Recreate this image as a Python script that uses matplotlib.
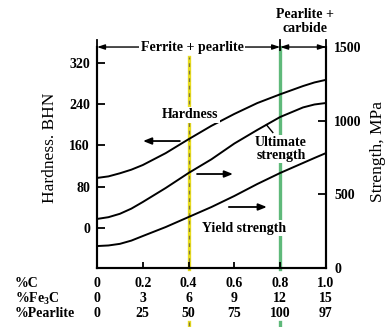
import numpy as np
import matplotlib
matplotlib.use("Agg")
import matplotlib.pyplot as plt
from matplotlib.transforms import blended_transform_factory

# carbon content of plain carbon steel and the properties read along it
carbon = [0, 0.05, 0.1, 0.15, 0.2, 0.3, 0.4, 0.5, 0.6, 0.7, 0.8, 0.9,
          0.95, 1.0]
hardness = [97, 100, 106, 113, 122, 145, 172, 198, 221, 242, 259, 275,
            282, 287]                                               # BHN
ultimate = [333, 345, 368, 403, 448, 543, 645, 738, 845, 937, 1025, 1090,
            1110, 1120]                                             # MPa
yield_strength = [149, 153, 164, 186, 217, 278, 346, 414, 489, 570, 645,
                  713, 747, 780]                                    # MPa

# composition table under the x axis
tick_c = [0, 0.2, 0.4, 0.6, 0.8, 1.0]
tick_c_labels = ["0", "0.2", "0.4", "0.6", "0.8", "1.0"]
fe3c = ["0", "3", "6", "9", "12", "15"]
pearlite = ["0", "25", "50", "75", "100", "97"]
row_names = ["%C", "%Fe$_3$C", "%Pearlite"]

half_c = 0.4       # 50 % pearlite
eutectoid_c = 0.8  # fully pearlitic

plt.rcParams["font.family"] = ["Liberation Serif", "DejaVu Serif"]
plt.rcParams["font.weight"] = "bold"
plt.rcParams["mathtext.fontset"] = "custom"
plt.rcParams["mathtext.rm"] = "Liberation Serif:bold"
plt.rcParams["mathtext.default"] = "rm"

fig = plt.figure(figsize=(3.88, 3.27), dpi=100)
ax = fig.add_axes([0.25, 0.1804, 0.590, 0.6758])
ax2 = ax.twinx()

ax.set_xlim(0, 1)
ax.set_ylim(-77.5, 350.6)
ax2.set_ylim(0, 1500)

ax.plot(carbon, hardness, color="k", lw=1.4, zorder=3)
ax2.plot(carbon, ultimate, color="k", lw=1.4)
ax2.plot(carbon, yield_strength, color="k", lw=1.4)

for a in (ax, ax2):
    a.spines["top"].set_visible(False)
    for s in ("left", "right", "bottom"):
        a.spines[s].set_linewidth(1.5)

ax.set_xticks(tick_c)
ax.tick_params(axis="x", direction="in", length=4.5, width=1.3,
               labelbottom=False)
ax.set_yticks([0, 80, 160, 240, 320])
ax.tick_params(axis="y", direction="in", length=6, width=1.3, pad=5,
               labelsize=10)
ax2.set_yticks([0, 500, 1000, 1500])
ax2.tick_params(axis="y", direction="in", length=6, width=1.3, pad=6,
                labelsize=10)

ax.text(-0.205, 0.545, "Hardness. BHN", rotation=90, ha="center",
        va="center", fontsize=12.5, fontweight="normal",
        transform=ax.transAxes)
ax.text(1.227, 0.525, "Strength, MPa", rotation=90, ha="center",
        va="center", fontsize=12.5, fontweight="normal",
        transform=ax.transAxes)

xt = blended_transform_factory(ax.transData, ax.transAxes)

# reference lines at 0.4 %C and the eutectoid composition
for y0, y1 in [(-0.005, 0.955), (-0.245, -0.27)]:
    ax.plot([half_c, half_c], [y0, y1], color="#e8dc1e", lw=2.4,
            transform=xt, clip_on=False, zorder=1)
    ax.plot([half_c, half_c], [y0, y1], color="#7d7840", lw=0.9,
            dashes=(3, 3), transform=xt, clip_on=False, zorder=1)
for y0, y1 in [(-0.005, 1.0), (-0.245, -0.27)]:
    ax.plot([eutectoid_c, eutectoid_c], [y0, y1], color="#5fb97a", lw=2.4,
            transform=xt, clip_on=False, zorder=1)

# composition table
rows = [tick_c_labels, fe3c, pearlite]
row_y = [-0.068, -0.140, -0.208]
for name, vals, y in zip(row_names, rows, row_y):
    ax.text(-0.358, y, name, ha="left", va="center", fontsize=10,
            transform=ax.transAxes)
    for c, v in zip(tick_c, vals):
        ax.text(c, y, v, ha="center", va="center", fontsize=10,
                transform=xt)

# microstructure ranges along the top
arrow_kw = dict(arrowstyle="<|-|>,head_length=0.45,head_width=0.15",
                color="k", lw=1.0, shrinkA=0, shrinkB=0)
ax.annotate("", xy=(0, 1.0), xytext=(eutectoid_c, 1.0), xycoords=xt,
            textcoords=xt, arrowprops=arrow_kw, annotation_clip=False)
ax.annotate("", xy=(eutectoid_c, 1.0), xytext=(1.0, 1.0), xycoords=xt,
            textcoords=xt, arrowprops=arrow_kw, annotation_clip=False)
for c in (0, eutectoid_c, 1.0):
    ax.plot([c, c], [0.986, 1.032], color="k", lw=1.3, transform=xt,
            clip_on=False)
ax.text(0.415, 1.0, "Ferrite + pearlite", ha="center", va="center",
        fontsize=10, transform=xt, zorder=4,
        bbox=dict(facecolor="white", edgecolor="none", pad=1))
ax.text(0.908, 1.115, "Pearlite +\ncarbide", ha="center", va="center",
        fontsize=10, linespacing=1.05, transform=xt)

# curve labels and direction arrows
white = dict(facecolor="white", edgecolor="none", pad=1)
ax.text(0.406, 219, "Hardness", ha="center", va="center", fontsize=10,
        zorder=4, bbox=white)
ax.text(0.803, 153, "Ultimate\nstrength", ha="center", va="center",
        fontsize=10, linespacing=1.0, zorder=4, bbox=white)
ax.text(0.642, 0, "Yield strength", ha="center", va="center",
        fontsize=10, zorder=4, bbox=white)
ax.plot([0.74, 0.768], [200, 185], color="k", lw=1.0, zorder=4)

head = dict(arrowstyle="-|>,head_length=0.5,head_width=0.2", color="k",
            lw=1.3, shrinkA=0, shrinkB=0)
ax.annotate("", xy=(0.201, 168.5), xytext=(0.362, 168.5), arrowprops=head)
ax.annotate("", xy=(0.594, 104.6), xytext=(0.437, 104.6), arrowprops=head)
ax.annotate("", xy=(0.742, 40.7), xytext=(0.576, 40.7), arrowprops=head)

fig.savefig("out.png", dpi=100)
